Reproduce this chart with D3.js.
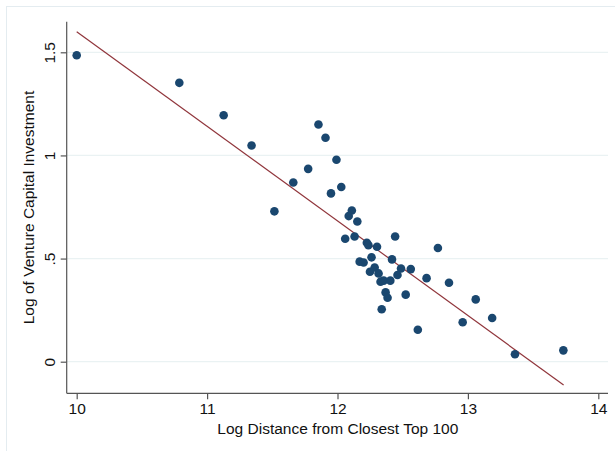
<!DOCTYPE html>
<html>
<head>
<meta charset="utf-8">
<script src="https://cdn.jsdelivr.net/npm/d3@7"></script>
<style>
  html, body { margin: 0; padding: 0; background: #fff; }
  svg { display: block; }
  text { font-family: "Liberation Sans", Arial, sans-serif; }
</style>
</head>
<body>
<svg id="chart" width="615" height="451"></svg>
<script>
// ---- data ----
const distX = [10.000, 10.787, 11.127, 11.341, 11.516, 11.661, 11.775, 11.854, 11.908, 11.992,
  11.950, 12.029, 12.110, 12.086, 12.152, 12.059, 12.131, 12.225, 12.237, 12.303,
  12.442, 12.770, 12.261, 12.418, 12.170, 12.200, 12.285, 12.249, 12.315, 12.487,
  12.562, 12.460, 12.683, 12.330, 12.354, 12.405, 12.855, 12.369, 12.384, 12.523,
  12.339, 13.060, 13.186, 12.960, 12.616, 13.361, 13.732];
const vcY = [1.486, 1.352, 1.195, 1.048, 0.729, 0.869, 0.935, 1.150, 1.086, 0.979,
  0.816, 0.847, 0.733, 0.706, 0.680, 0.596, 0.607, 0.577, 0.565, 0.557,
  0.607, 0.551, 0.506, 0.496, 0.485, 0.481, 0.457, 0.436, 0.428, 0.452,
  0.449, 0.420, 0.405, 0.388, 0.393, 0.393, 0.383, 0.336, 0.310, 0.325,
  0.254, 0.302, 0.212, 0.191, 0.155, 0.036, 0.055];
const fitX = [10.000, 13.734];
const fitY = [1.600, -0.113];
const xTicks = [10, 11, 12, 13, 14];
const yTicks = [0, 0.5, 1, 1.5];
const yTickLabels = ["0", ".5", "1", "1.5"];
const xTitle = "Log Distance from Closest Top 100";
const yTitle = "Log of Venture Capital Investment";

// ---- layout ----
const W = 615, H = 451;
const plotLeft = 66.7, plotRight = 608, plotTop = 21.7, plotBottom = 393.3;
const svg = d3.select("#chart");

const x = d3.scaleLinear().domain([10, 14]).range([76.7, 598.3]);
const y = d3.scaleLinear().domain([0, 1.5]).range([361.7, 52.3]);

// outer graph region frame
svg.append("rect").attr("x", 6.5).attr("y", 6.5).attr("width", W).attr("height", H)
  .attr("fill", "#fff").attr("stroke", "#e4ecf0").attr("stroke-width", 1);

// gridlines
svg.append("g").selectAll("line").data(yTicks).join("line")
  .attr("x1", plotLeft).attr("x2", plotRight)
  .attr("y1", d => y(d)).attr("y2", d => y(d))
  .attr("stroke", "#eaf2f3").attr("stroke-width", 1.3);

// fitted line
const line = d3.line().x(d => x(d[0])).y(d => y(d[1]));
svg.append("path").datum(d3.zip(fitX, fitY)).attr("d", line)
  .attr("fill", "none").attr("stroke", "#90353b").attr("stroke-width", 1.2);

// points
svg.append("g").selectAll("circle").data(d3.zip(distX, vcY)).join("circle")
  .attr("cx", d => x(d[0])).attr("cy", d => y(d[1])).attr("r", 4.3)
  .attr("fill", "#1a476f");

// x axis
const xAxis = d3.axisBottom(x).tickValues(xTicks).tickSize(6).tickPadding(4)
  .tickFormat(d3.format("d"));
const gx = svg.append("g").attr("transform", `translate(0,${plotBottom})`).call(xAxis);
gx.select(".domain").attr("d", `M${plotLeft},0H${plotRight}`);
gx.selectAll("path, line").attr("stroke", "#555").attr("stroke-width", 1.2);
gx.selectAll("text").attr("font-size", 15.5).attr("fill", "#111")
  .attr("font-family", "Liberation Sans, Arial, sans-serif");

// y axis
const yAxis = d3.axisLeft(y).tickValues(yTicks).tickSize(6)
  .tickFormat((d, i) => yTickLabels[i]);
const gy = svg.append("g").attr("transform", `translate(${plotLeft},0)`).call(yAxis);
gy.select(".domain").attr("d", `M0,${plotTop}V${plotBottom}`);
gy.selectAll("path, line").attr("stroke", "#555").attr("stroke-width", 1.2);
gy.selectAll("text")
  .attr("font-size", 15.5).attr("fill", "#111")
  .attr("font-family", "Liberation Sans, Arial, sans-serif")
  .attr("x", null).attr("dy", null)
  .attr("text-anchor", "middle")
  .attr("transform", "translate(-11.5,0) rotate(-90)");

// titles
svg.append("text").attr("x", (plotLeft + plotRight) / 2 + 0.5).attr("y", 433.5)
  .attr("text-anchor", "middle").attr("font-size", 15.5).attr("fill", "#111")
  .text(xTitle);
svg.append("text")
  .attr("transform", `translate(33.5,${(plotTop + plotBottom) / 2}) rotate(-90)`)
  .attr("text-anchor", "middle").attr("font-size", 15.5).attr("fill", "#111")
  .text(yTitle);
</script>
</body>
</html>
